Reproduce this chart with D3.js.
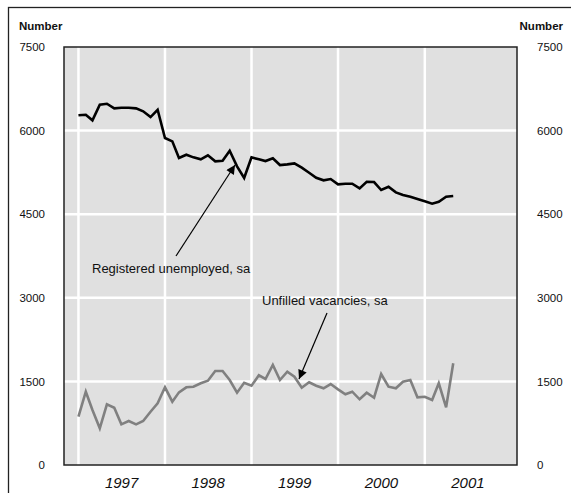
<!DOCTYPE html>
<html><head><meta charset="utf-8">
<script src="https://cdn.jsdelivr.net/npm/d3@7"></script>
<style>
html,body{margin:0;padding:0;background:#fff;}
svg{display:block;}
text{font-family:"Liberation Sans",Arial,sans-serif;fill:#111;}
</style></head>
<body>
<svg id="chart" width="571" height="493"></svg>
<script>
// Monthly data, Jan 1997 – May 2001 (thousands)
const startYear = 1997;
const unemployed = [
  6274,6285,6184,6464,6482,6399,6410,6410,6399,6346,6243,6374,
  5867,5807,5508,5567,5520,5484,5556,5449,5459,5639,5359,5149,
  5520,5484,5454,5502,5382,5394,5412,5334,5244,5154,5108,5131,
  5036,5047,5047,4964,5083,5077,4934,4993,4892,4844,4814,4772,
  4731,4688,4724,4814,4826
];
const vacancies = [
  867,1315,987,658,1089,1028,730,789,730,789,956,1107,
  1394,1136,1304,1394,1405,1466,1512,1686,1686,1525,1297,1476,
  1423,1609,1543,1794,1525,1674,1584,1387,1484,1423,1376,1453,
  1358,1268,1315,1179,1297,1207,1633,1405,1376,1494,1525,1215,
  1225,1166,1466,1035,1825
];
const yearLabels = ["1997","1998","1999","2000","2001"];
const yTicks = [0,1500,3000,4500,6000,7500];
const axisTitle = "Number";
const unemployedLabel = "Registered unemployed, sa";
const vacanciesLabel = "Unfilled vacancies, sa";

const svg = d3.select("#chart");
const plot = {left:64, top:47, right:517, bottom:465};

const x = d3.scaleTime()
  .domain([new Date(1996,10,1), new Date(2002,0,25)])
  .range([plot.left, plot.right]);
const y = d3.scaleLinear().domain([0,7500]).range([plot.bottom, plot.top]);

// outer frame
svg.append("rect").attr("x",8.5).attr("y",7.5).attr("width",620).attr("height",620)
  .attr("fill","none").attr("stroke","#222").attr("stroke-width",1.3);

// plot background
svg.append("rect").attr("x",plot.left).attr("y",plot.top)
  .attr("width",plot.right-plot.left).attr("height",plot.bottom-plot.top)
  .attr("fill","#e0e0e0");

// gridlines
const g = svg.append("g");
g.selectAll("line.h").data(yTicks.filter(v=>v>0 && v<7500)).join("line")
  .attr("x1",plot.left).attr("x2",plot.right)
  .attr("y1",d=>y(d)).attr("y2",d=>y(d))
  .attr("stroke","#fff").attr("stroke-width",2.5);
g.selectAll("line.v").data(yearLabels).join("line")
  .attr("x1",d=>x(new Date(+d,0,1))).attr("x2",d=>x(new Date(+d,0,1)))
  .attr("y1",plot.top).attr("y2",plot.bottom)
  .attr("stroke","#fff").attr("stroke-width",2.5);

// plot border
svg.append("rect").attr("x",plot.left).attr("y",plot.top)
  .attr("width",plot.right-plot.left).attr("height",plot.bottom-plot.top)
  .attr("fill","none").attr("stroke","#222").attr("stroke-width",1.5);

const line = d3.line()
  .x((d,i)=>x(new Date(startYear, i, 1)))
  .y(d=>y(d));

svg.append("path").datum(vacancies).attr("d",line)
  .attr("fill","none").attr("stroke","#808080").attr("stroke-width",2.6)
  .attr("stroke-linejoin","miter");
svg.append("path").datum(unemployed).attr("d",line)
  .attr("fill","none").attr("stroke","#000").attr("stroke-width",2.6)
  .attr("stroke-linejoin","miter");

// y axes labels
const fmt = d3.format("d");
const leftAx = d3.axisLeft(y).tickValues(yTicks).tickFormat(fmt).tickSize(0).tickPadding(0);
const la = svg.append("g").attr("transform","translate(45,0)").call(leftAx);
la.select(".domain").remove();
la.selectAll("text").attr("font-size","11.5px").attr("fill","#111")
  .attr("font-family","Liberation Sans, Arial, sans-serif");

const rightAx = d3.axisRight(y).tickValues(yTicks).tickFormat(fmt).tickSize(0).tickPadding(0);
const ra = svg.append("g").attr("transform","translate(537,0)").call(rightAx);
ra.select(".domain").remove();
ra.selectAll("text").attr("font-size","11.5px").attr("fill","#111")
  .attr("font-family","Liberation Sans, Arial, sans-serif");

// axis titles
svg.append("text").attr("x",19).attr("y",30).attr("font-size","11.5px")
  .attr("font-weight","bold").text(axisTitle);
svg.append("text").attr("x",563).attr("y",30).attr("font-size","11.5px")
  .attr("text-anchor","end").attr("font-weight","bold").text(axisTitle);

// year labels
svg.append("g").selectAll("text").data(yearLabels).join("text")
  .attr("x",d=>x(new Date(+d,6,2))).attr("y",488)
  .attr("text-anchor","middle").attr("font-size","15px").attr("font-style","italic")
  .text(d=>d);

// annotations
const defs = svg.append("defs");
defs.append("marker").attr("id","arrow").attr("viewBox","0 0 10 10")
  .attr("refX",10).attr("refY",5).attr("markerWidth",14).attr("markerHeight",9)
  .attr("markerUnits","userSpaceOnUse").attr("orient","auto")
  .append("path").attr("d","M0,0 L10,5 L0,10 Z").attr("fill","#000");

svg.append("text").attr("x",92).attr("y",273).attr("font-size","13px").text(unemployedLabel);
svg.append("line").attr("x1",176).attr("y1",256).attr("x2",235).attr("y2",165)
  .attr("stroke","#000").attr("stroke-width",1.2).attr("marker-end","url(#arrow)");

svg.append("text").attr("x",262).attr("y",305).attr("font-size","13px").text(vacanciesLabel);
svg.append("line").attr("x1",327).attr("y1",313).attr("x2",299).attr("y2",379)
  .attr("stroke","#000").attr("stroke-width",1.2).attr("marker-end","url(#arrow)");
</script>
</body></html>
